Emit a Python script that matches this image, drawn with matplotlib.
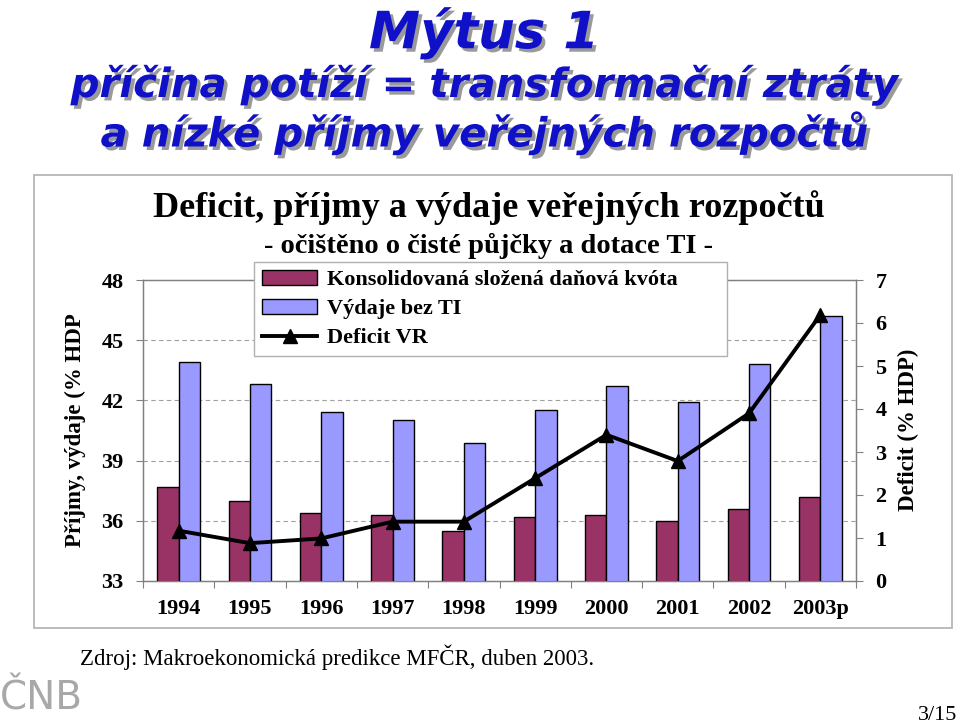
import numpy as np
import matplotlib.pyplot as plt
import matplotlib.patheffects as pe
from matplotlib.patches import Rectangle

# data (% HDP)
years = ['1994', '1995', '1996', '1997', '1998', '1999', '2000', '2001', '2002', '2003p']
prijmy = [37.7, 37.0, 36.4, 36.3, 35.5, 36.2, 36.3, 36.0, 36.6, 37.2]
vydaje = [43.9, 42.8, 41.4, 41.0, 39.9, 41.5, 42.7, 41.9, 43.8, 46.2]
deficit = [1.17, 0.88, 0.99, 1.38, 1.38, 2.39, 3.40, 2.79, 3.90, 6.19]

left_ticks = [33, 36, 39, 42, 45, 48]
right_ticks = [0, 1, 2, 3, 4, 5, 6, 7]

W, H = 960, 727
fig = plt.figure(figsize=(W / 100, H / 100), dpi=100)
fig.patch.set_facecolor('white')

serif = 'Liberation Serif'
blue_title = '#1010c8'

# slide titles with shadow
shadow = [pe.SimplePatchShadow(offset=(2.5, -2.5), shadow_rgbFace='#9a9a9a', alpha=1.0), pe.Normal()]
fig.text(484 / W, 1 - 33 / H, 'Mýtus 1', ha='center', va='center', fontsize=37,
         fontweight='bold', fontstyle='italic', family='DejaVu Sans', color=blue_title,
         path_effects=shadow)
fig.text(484 / W, 1 - 85 / H, 'příčina potíží = transformační ztráty', ha='center', va='center',
         fontsize=29, fontweight='bold', fontstyle='italic', family='DejaVu Sans',
         color=blue_title, path_effects=shadow)
fig.text(484 / W, 1 - 133 / H, 'a nízké příjmy veřejných rozpočtů', ha='center', va='center',
         fontsize=29, fontweight='bold', fontstyle='italic', family='DejaVu Sans',
         color=blue_title, path_effects=shadow)

# outer chart frame
fig.patches.append(Rectangle((34 / W, 1 - 628 / H), 918 / W, 453 / H, transform=fig.transFigure,
                             fill=False, edgecolor='#b0b0b0', linewidth=1.2, zorder=0))

fig.text(489 / W, 1 - 208 / H, 'Deficit, příjmy a výdaje veřejných rozpočtů', ha='center',
         va='center', fontsize=26, fontweight='bold', family=serif)
fig.text(488 / W, 1 - 246 / H, '- očištěno o čisté půjčky a dotace TI -', ha='center',
         va='center', fontsize=20.5, fontweight='bold', family=serif)

# axes
ax = fig.add_axes([143 / W, 1 - 581 / H, 713 / W, 301 / H])
x = np.arange(len(years))
bw = 0.3
ax.bar(x - bw / 2, prijmy, bw, color='#993366', edgecolor='black', linewidth=1.0,
       zorder=3, label='Konsolidovaná složená daňová kvóta')
ax.bar(x + bw / 2, vydaje, bw, color='#9999ff', edgecolor='black', linewidth=1.0,
       zorder=3, label='Výdaje bez TI')
ax.set_ylim(33, 48)
ax.set_xlim(-0.5, len(years) - 0.5)
ax.set_yticks(left_ticks)
for v in left_ticks[1:-1]:
    ax.axhline(v, color='#a0a0a0', linestyle=(0, (4, 3)), linewidth=0.8, zorder=1)

ax.set_xticks(np.arange(-0.5, len(years), 1.0))
ax.set_xticklabels([])
ax.set_xticks(x, minor=True)
ax.set_xticklabels(years, minor=True)
ax.tick_params(axis='x', which='major', length=5, color='#808080', direction='out')
ax.tick_params(axis='x', which='minor', length=0, pad=13)
ax.tick_params(axis='y', length=5, color='#808080', pad=9)
for lab in ax.get_xticklabels(minor=True) + ax.get_yticklabels():
    lab.set_family(serif)
    lab.set_fontweight('bold')
    lab.set_fontsize(16)
for sp in ax.spines.values():
    sp.set_color('#808080')
    sp.set_linewidth(1.0)

ax2 = ax.twinx()
ax2.plot(x, deficit, color='black', linewidth=2.8, marker='^', markersize=10, zorder=5,
         label='Deficit VR')
ax2.set_ylim(0, 7)
ax2.set_yticks(right_ticks)
ax2.tick_params(axis='y', length=5, color='#808080', pad=9)
for lab in ax2.get_yticklabels():
    lab.set_family(serif)
    lab.set_fontweight('bold')
    lab.set_fontsize(16)
for sp in ax2.spines.values():
    sp.set_color('#808080')

fig.text(75 / W, 1 - 430 / H, 'Příjmy, výdaje (% HDP', rotation=90, ha='center', va='center',
         fontsize=16.5, fontweight='bold', family=serif)
fig.text(908 / W, 1 - 430 / H, 'Deficit (% HDP)', rotation=90, ha='center', va='center',
         fontsize=16.5, fontweight='bold', family=serif)

# legend, stretched to the width of the box in the original
h1, l1 = ax.get_legend_handles_labels()
h2, l2 = ax2.get_legend_handles_labels()
leg = fig.legend(h1 + h2, l1 + l2, loc='upper left', mode='expand',
                 bbox_to_anchor=(254 / W, 1 - 354 / H, 473 / W, 92 / H),
                 bbox_transform=fig.transFigure, borderaxespad=0, frameon=True, fancybox=False,
                 edgecolor='#b0b0b0', framealpha=1, handlelength=2.5, handleheight=0.65,
                 handletextpad=0.45, labelspacing=0.4, borderpad=0.35,
                 prop={'family': serif, 'weight': 'bold', 'size': 16})
leg.set_zorder(10)
leg.get_frame().set_linewidth(1.0)

# footer
fig.text(80 / W, 1 - 657 / H, 'Zdroj: Makroekonomická predikce MFČR, duben 2003.', ha='left',
         va='center', fontsize=16.5, family=serif)
fig.text(957 / W, 1 - 716 / H, '3/15', ha='right', va='center', fontsize=16, family=serif)
fig.text(0 / W, 1 - 699 / H, 'ČNB', ha='left', va='center', fontsize=28, family='DejaVu Sans',
         color='#a8a8a8')

fig.savefig('out.png', dpi=100)
